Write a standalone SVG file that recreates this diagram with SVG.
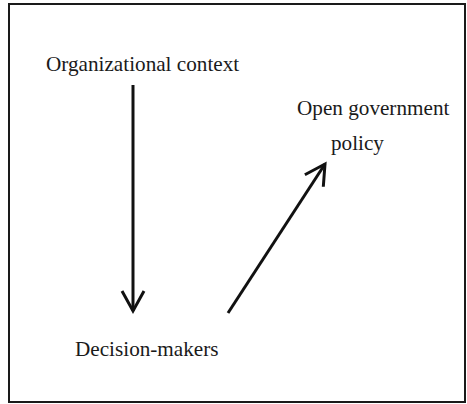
<svg xmlns="http://www.w3.org/2000/svg" width="467" height="404" viewBox="0 0 467 404">
  <style>
    .label { font-family: "Liberation Serif", "Times New Roman", serif; font-size: 21.2px; fill: #1a1a1a; }
    .edge { stroke: #111; stroke-width: 3; fill: none; }
    .frame { stroke: #1a1a1a; stroke-width: 2; fill: #fff; }
  </style>
  <defs>
    <marker id="chevron" markerUnits="userSpaceOnUse" markerWidth="30" markerHeight="30" viewBox="-24 -15 30 30" refX="0" refY="0" orient="auto">
      <path d="M-20,-11 L0,0 L-20,11" fill="none" stroke="#111" stroke-width="3" stroke-linejoin="miter"/>
    </marker>
  </defs>

  <rect class="frame" x="9" y="4" width="456" height="398"/>

  <g id="connectors">
    <line class="edge" x1="133" y1="85" x2="133" y2="311" marker-end="url(#chevron)"/>
    <line class="edge" x1="228" y1="313" x2="325" y2="164" marker-end="url(#chevron)"/>
  </g>

  <g id="organizational-context">
    <text class="label" x="46" y="71">Organizational context</text>
  </g>
  <g id="open-government-policy">
    <text class="label" x="297" y="115">Open government</text>
    <text class="label" x="331" y="150">policy</text>
  </g>
  <g id="decision-makers">
    <text class="label" x="75" y="356">Decision-makers</text>
  </g>
</svg>
